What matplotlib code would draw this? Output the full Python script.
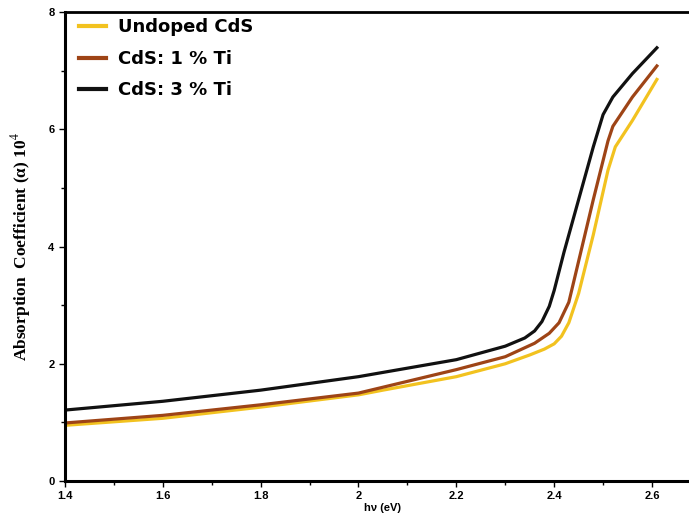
import numpy as np
import matplotlib.pyplot as plt
from matplotlib.ticker import MultipleLocator

# photon energy (eV) and absorption coefficient (x 10^4)
hv_undoped = [1.40, 1.60, 1.80, 2.00, 2.05, 2.20, 2.30, 2.35, 2.38, 2.40, 2.415,
              2.43, 2.45, 2.48, 2.51, 2.525, 2.56, 2.61]
alpha_undoped = [0.95, 1.07, 1.26, 1.47, 1.55, 1.78, 2.00, 2.15, 2.25, 2.34, 2.47,
                 2.70, 3.20, 4.20, 5.30, 5.70, 6.15, 6.85]

hv_ti1 = [1.40, 1.60, 1.80, 2.00, 2.05, 2.20, 2.30, 2.36, 2.39, 2.41, 2.43,
          2.45, 2.48, 2.51, 2.52, 2.56, 2.61]
alpha_ti1 = [0.99, 1.12, 1.30, 1.50, 1.60, 1.90, 2.12, 2.35, 2.52, 2.70, 3.05,
             3.75, 4.80, 5.80, 6.05, 6.55, 7.08]

hv_ti3 = [1.40, 1.60, 1.80, 2.00, 2.20, 2.30, 2.34, 2.36, 2.375, 2.39, 2.40,
          2.42, 2.45, 2.48, 2.50, 2.52, 2.56, 2.61]
alpha_ti3 = [1.21, 1.36, 1.55, 1.78, 2.07, 2.30, 2.44, 2.56, 2.72, 2.98, 3.25,
             3.90, 4.80, 5.70, 6.25, 6.55, 6.95, 7.39]

labels = ['Undoped CdS', 'CdS: 1 % Ti', 'CdS: 3 % Ti']
colors = ['#f2c21f', '#9e4416', '#111111']


def main():
    plt.rcParams['mathtext.fontset'] = 'stix'
    fig = plt.figure(figsize=(6.89, 5.18), dpi=100)
    ax = fig.add_axes([0.0943, 0.0714, 0.923, 0.9054])

    ax.plot(hv_undoped, alpha_undoped, color=colors[0], lw=2.3, label=labels[0])
    ax.plot(hv_ti1, alpha_ti1, color=colors[1], lw=2.3, label=labels[1])
    ax.plot(hv_ti3, alpha_ti3, color=colors[2], lw=2.3, label=labels[2])

    ax.set_xlim(1.4, 2.7)
    ax.set_ylim(0, 8)
    ax.xaxis.set_minor_locator(MultipleLocator(0.1))
    ax.yaxis.set_major_locator(MultipleLocator(2))
    ax.yaxis.set_minor_locator(MultipleLocator(1))
    ax.set_xticks([1.4, 1.6, 1.8, 2.0, 2.2, 2.4, 2.6])
    ax.set_xticklabels(['1.4', '1.6', '1.8', '2', '2.2', '2.4', '2.6'])
    ax.tick_params(which='both', direction='out', width=1, labelsize=8)
    ax.tick_params(which='major', length=4)
    ax.tick_params(which='minor', length=3)
    for lab in ax.get_xticklabels() + ax.get_yticklabels():
        lab.set_fontweight('bold')
        lab.set_family('Liberation Sans')

    for side in ['left', 'bottom']:
        ax.spines[side].set_linewidth(2.2)
    ax.spines['top'].set_linewidth(2.0)

    ax.set_xlabel('hν (eV)', fontsize=8, fontweight='bold',
                  family='Liberation Sans', labelpad=1)
    ax.set_ylabel(r'Absorption  Coefficient (α) 10$^4$', fontsize=12.5,
                  fontweight='bold', family='Liberation Serif', labelpad=11)

    leg = ax.legend(loc='upper left', bbox_to_anchor=(0.012, 1.0),
                    frameon=False, handlelength=1.5, handletextpad=0.65,
                    borderaxespad=0.0, borderpad=0.35, labelspacing=0.75,
                    prop={'family': 'DejaVu Sans', 'weight': 'bold', 'size': 13})
    for line in leg.get_lines():
        line.set_linewidth(3)

    fig.savefig('out.png', dpi=100)


if __name__ == '__main__':
    main()
